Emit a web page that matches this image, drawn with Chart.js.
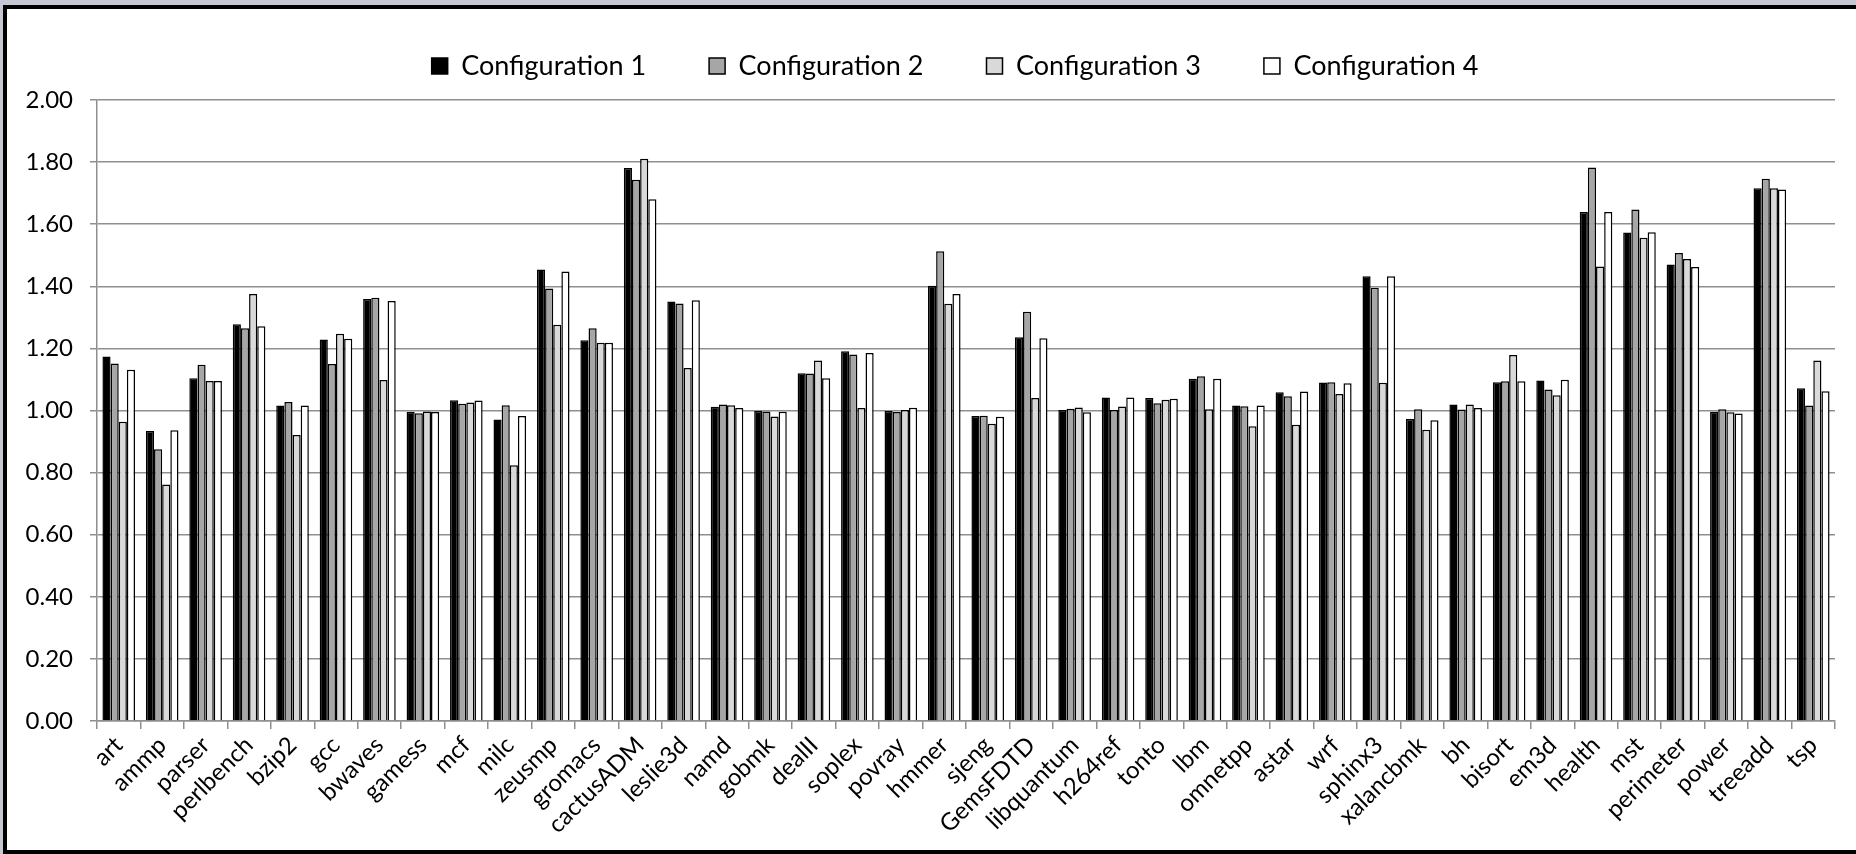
<!DOCTYPE html>
<html><head><meta charset="utf-8">
<script src="https://cdn.jsdelivr.net/npm/chart.js@4.4.0/dist/chart.umd.min.js"></script>
<style>html,body{margin:0;padding:0;background:#c5c8d3;overflow:hidden}canvas{display:block}</style>
</head><body>
<canvas id="c" width="1856" height="854"></canvas>
<script>
const categories = ['art','ammp','parser','perlbench','bzip2','gcc','bwaves','gamess','mcf','milc','zeusmp','gromacs','cactusADM','leslie3d','namd','gobmk','dealII','soplex','povray','hmmer','sjeng','GemsFDTD','libquantum','h264ref','tonto','lbm','omnetpp','astar','wrf','sphinx3','xalancbmk','bh','bisort','em3d','health','mst','perimeter','power','treeadd','tsp'];
const seriesNames = ['Configuration 1','Configuration 2','Configuration 3','Configuration 4'];
const config1 = [1.174,0.934,1.104,1.278,1.016,1.229,1.359,0.996,1.033,0.971,1.454,1.226,1.781,1.351,1.012,0.998,1.120,1.191,0.998,1.402,0.982,1.236,1.002,1.042,1.040,1.102,1.016,1.059,1.090,1.432,0.973,1.019,1.091,1.097,1.639,1.573,1.470,0.996,1.716,1.072];
const config2 = [1.151,0.875,1.147,1.265,1.027,1.150,1.363,0.991,1.022,1.017,1.393,1.265,1.743,1.345,1.019,0.997,1.119,1.180,0.995,1.513,0.983,1.318,1.006,1.002,1.023,1.110,1.014,1.046,1.091,1.395,1.004,1.003,1.094,1.068,1.783,1.647,1.507,1.004,1.746,1.016];
const config3 = [0.964,0.762,1.095,1.375,0.921,1.247,1.098,0.997,1.026,0.824,1.276,1.218,1.811,1.137,1.017,0.981,1.161,1.008,1.002,1.344,0.957,1.040,1.010,1.013,1.035,1.004,0.949,0.954,1.053,1.089,0.938,1.019,1.179,1.049,1.464,1.556,1.488,0.994,1.716,1.161];
const config4 = [1.131,0.936,1.095,1.271,1.016,1.231,1.353,0.995,1.032,0.982,1.448,1.218,1.680,1.355,1.008,0.996,1.104,1.185,1.009,1.375,0.980,1.233,0.994,1.042,1.038,1.102,1.016,1.061,1.088,1.432,0.969,1.008,1.094,1.099,1.639,1.574,1.462,0.990,1.712,1.062];
const yMin = 0, yMax = 2, yStep = 0.2;

const fills = ['#000000','#a6a6a6','#d9d9d9','#ffffff'];
const seriesData = [config1, config2, config3, config4];
const FONT = 'Lato, "Open Sans", sans-serif';
const GRID = '#8f8f8f';
const LEG_PAD = 63;

const framePlugin = {
  id: 'frame',
  beforeDraw(chart) {
    const ctx = chart.ctx;
    ctx.save();
    ctx.fillStyle = '#c5c8d3';
    ctx.fillRect(0, 0, chart.width, chart.height);
    ctx.fillStyle = '#ffffff';
    ctx.fillRect(5, 7, chart.width + 20, chart.height);
    ctx.strokeStyle = '#000000';
    ctx.lineWidth = 4;
    ctx.strokeRect(5, 7, chart.width + 20, chart.height - 9);
    ctx.restore();
  },
  afterLayout(chart) {
    const lg = chart.legend;
    if (lg) {
      lg.left = 75; lg.right = 1835; lg.width = lg.right - lg.left;
      lg.top = 66 - 13.5 - LEG_PAD;
    }
  }
};

new Chart(document.getElementById('c'), {
  type: 'bar',
  data: {
    labels: categories,
    datasets: seriesData.map((d, i) => ({
      label: seriesNames[i],
      data: d,
      backgroundColor: fills[i],
      borderColor: '#000000',
      borderWidth: 1.5,
      categoryPercentage: 0.75,
      barPercentage: 1.0
    }))
  },
  options: {
    responsive: false,
    animation: false,
    devicePixelRatio: 1,
    layout: { padding: { left: 7, right: 21, top: 0, bottom: 0 } },
    plugins: {
      tooltip: { enabled: false },
      legend: {
        position: 'top',
        maxHeight: 104,
        labels: {
          color: '#000',
          font: { family: FONT, size: 27 },
          boxWidth: 16, boxHeight: 16,
          padding: LEG_PAD
        }
      }
    },
    scales: {
      x: {
        afterFit(s) { s.height = 133; },
        grid: { offset: true, drawOnChartArea: false, drawTicks: true, tickLength: 8, color: GRID, lineWidth: 1.5 },
        border: { display: true, color: GRID, width: 1.5 },
        ticks: { autoSkip: false, maxRotation: 45, minRotation: 45, padding: 2, color: '#000', font: { family: FONT, size: 24 } }
      },
      y: {
        min: yMin, max: yMax,
        afterFit(s) { s.width = 90; },
        grid: { color: GRID, lineWidth: 1.5, drawTicks: true, tickLength: 7 },
        border: { display: true, color: GRID, width: 1.5 },
        ticks: { stepSize: yStep, padding: 17, color: '#000', font: { family: FONT, size: 24 },
                 callback: v => Number(v).toFixed(2) }
      }
    }
  },
  plugins: [framePlugin]
});
</script>
</body></html>
